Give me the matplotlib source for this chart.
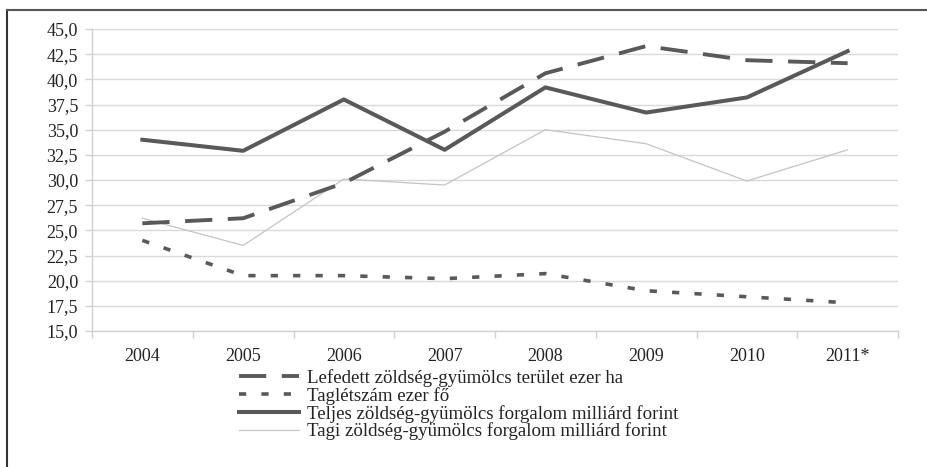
import matplotlib.pyplot as plt
from matplotlib.lines import Line2D
from matplotlib.ticker import FixedLocator, FuncFormatter

years = ['2004', '2005', '2006', '2007', '2008', '2009', '2010', '2011*']
lefedett = [25.7, 26.2, 29.7, 34.8, 40.6, 43.3, 41.9, 41.6]
tagletszam = [24.0, 20.5, 20.5, 20.2, 20.7, 19.0, 18.4, 17.8]
teljes = [34.0, 32.9, 38.0, 33.0, 39.2, 36.7, 38.2, 42.8]
tagi = [26.2, 23.5, 30.1, 29.5, 35.0, 33.6, 29.9, 33.0]
labels = ['Lefedett zöldség-gyümölcs terület ezer ha',
          'Taglétszám ezer fő',
          'Teljes zöldség-gyümölcs forgalom milliárd forint',
          'Tagi zöldség-gyümölcs forgalom milliárd forint']

plt.rcParams['font.family'] = ['Liberation Serif', 'DejaVu Serif']

fig = plt.figure(figsize=(9.27, 4.67), dpi=100)
ax = fig.add_axes([92 / 927, 1 - 331 / 467, (898 - 92) / 927, (331 - 29) / 467])

x = list(range(len(years)))
dark = '#595959'
l4, = ax.plot(x, tagi, color='#c4c4c4', lw=0.9, label=labels[3], zorder=2)
l1, = ax.plot(x, lefedett, color=dark, lw=2.8, dashes=(7, 4), label=labels[0], zorder=3)
l2, = ax.plot(x, tagletszam, color=dark, lw=2.6, dashes=(2, 4.2), label=labels[1], zorder=3)
l3, = ax.plot(x, teljes, color=dark, lw=2.9, label=labels[2], zorder=4)

ax.set_xlim(-0.5, len(years) - 0.5)
ax.set_ylim(15, 45)
ax.set_yticks([15 + 2.5 * i for i in range(13)])
ax.yaxis.set_major_formatter(FuncFormatter(lambda v, p: f'{v:.1f}'.replace('.', ',')))
ax.set_xticks(x)
ax.set_xticklabels(years)
ax.xaxis.set_minor_locator(FixedLocator([i - 0.5 for i in range(len(years) + 1)]))
ax.tick_params(axis='x', which='major', length=0, pad=12, labelsize=13, colors='#222222')
ax.tick_params(axis='x', which='minor', length=5, color='#d0d0d0', width=1)
ax.tick_params(axis='y', length=5, color='#d0d0d0', width=1, pad=5, labelsize=13, labelcolor='#222222')
ax.grid(axis='y', color='#d9d9d9', lw=1)
ax.set_axisbelow(True)
for s in ['top', 'right']:
    ax.spines[s].set_visible(False)
for s in ['left', 'bottom']:
    ax.spines[s].set_color('#d0d0d0')
    ax.spines[s].set_linewidth(1)

leg = fig.legend(handles=[l1, l2, l3, l4], labels=labels, loc='upper left',
                 bbox_to_anchor=(239 / 927, 1 - 369 / 467), frameon=False,
                 fontsize=13.6, handlelength=3.2, handletextpad=0.4,
                 labelspacing=0.0, borderpad=0, borderaxespad=0)
for t in leg.get_texts():
    t.set_color('#222222')

# outer frame (left and top edges)
fig.add_artist(Line2D([7 / 927, 7 / 927], [0, 1 - 10 / 467], color='#333333', lw=1.5))
fig.add_artist(Line2D([7 / 927, 1], [1 - 10 / 467, 1 - 10 / 467], color='#555555', lw=1.5))

fig.savefig('out.png', dpi=100)
